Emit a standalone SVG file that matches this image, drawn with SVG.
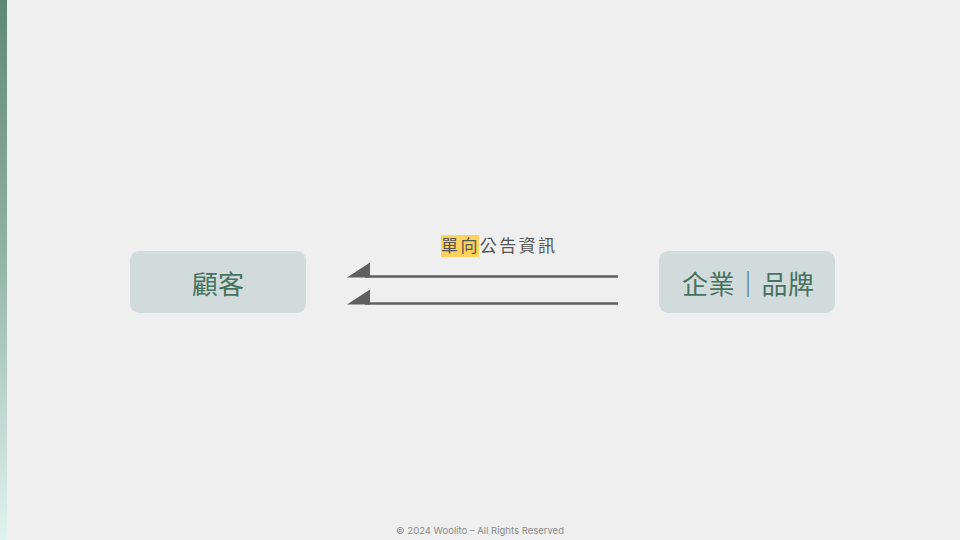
<svg xmlns="http://www.w3.org/2000/svg" width="960" height="540" viewBox="0 0 960 540">
<defs>
<linearGradient id="strip" x1="0" y1="0" x2="0" y2="1">
<stop offset="0" stop-color="#5f8878"/>
<stop offset="0.45" stop-color="#8fb0a2"/>
<stop offset="0.7" stop-color="#b6d0c8"/>
<stop offset="1" stop-color="#e0f3ee"/>
</linearGradient>
<style>
.box{fill:#d1dbdb;}
.node{font-family:"Noto Sans CJK TC","Noto Sans CJK SC",sans-serif;font-size:26px;font-weight:400;fill:#46725f;text-anchor:middle;}
.lbl{font-family:"Noto Sans CJK TC","Noto Sans CJK SC",sans-serif;font-size:17px;fill:#555;}
.ln{stroke:#5f5f5f;stroke-width:2.5;fill:none;}
.hd{fill:#5f5f5f;}
</style>
</defs>
<rect width="960" height="540" fill="#efefef"/>
<rect x="0" y="0" width="7" height="540" fill="url(#strip)"/>
<g id="customer">
<rect class="box" x="130" y="251" width="176" height="62" rx="9"/>
<text class="node" x="218" y="294">顧客</text>
</g>
<g id="brand">
<rect class="box" x="659" y="251" width="176" height="62" rx="9"/>
<text class="node" x="748" y="294" textLength="132">企業｜品牌</text>
</g>
<g id="connectors">
<line class="ln" x1="365" y1="276.5" x2="618" y2="276.5"/>
<polygon class="hd" points="347,277.5 370,262.5 370,277.5"/>
<line class="ln" x1="365" y1="303.5" x2="618" y2="303.5"/>
<polygon class="hd" points="347,304.5 370,289.5 370,304.5"/>
</g>
<g id="label">
<rect x="441" y="235" width="38" height="22" fill="#fdd25c"/>
<text class="lbl" x="441" y="252" textLength="114">單向公告資訊</text>
</g>
<text x="480" y="534" font-family="Inter,'Noto Sans',sans-serif" font-size="9.5" fill="#8a8a8a" text-anchor="middle">© 2024 Woolito – All Rights Reserved</text>
</svg>
